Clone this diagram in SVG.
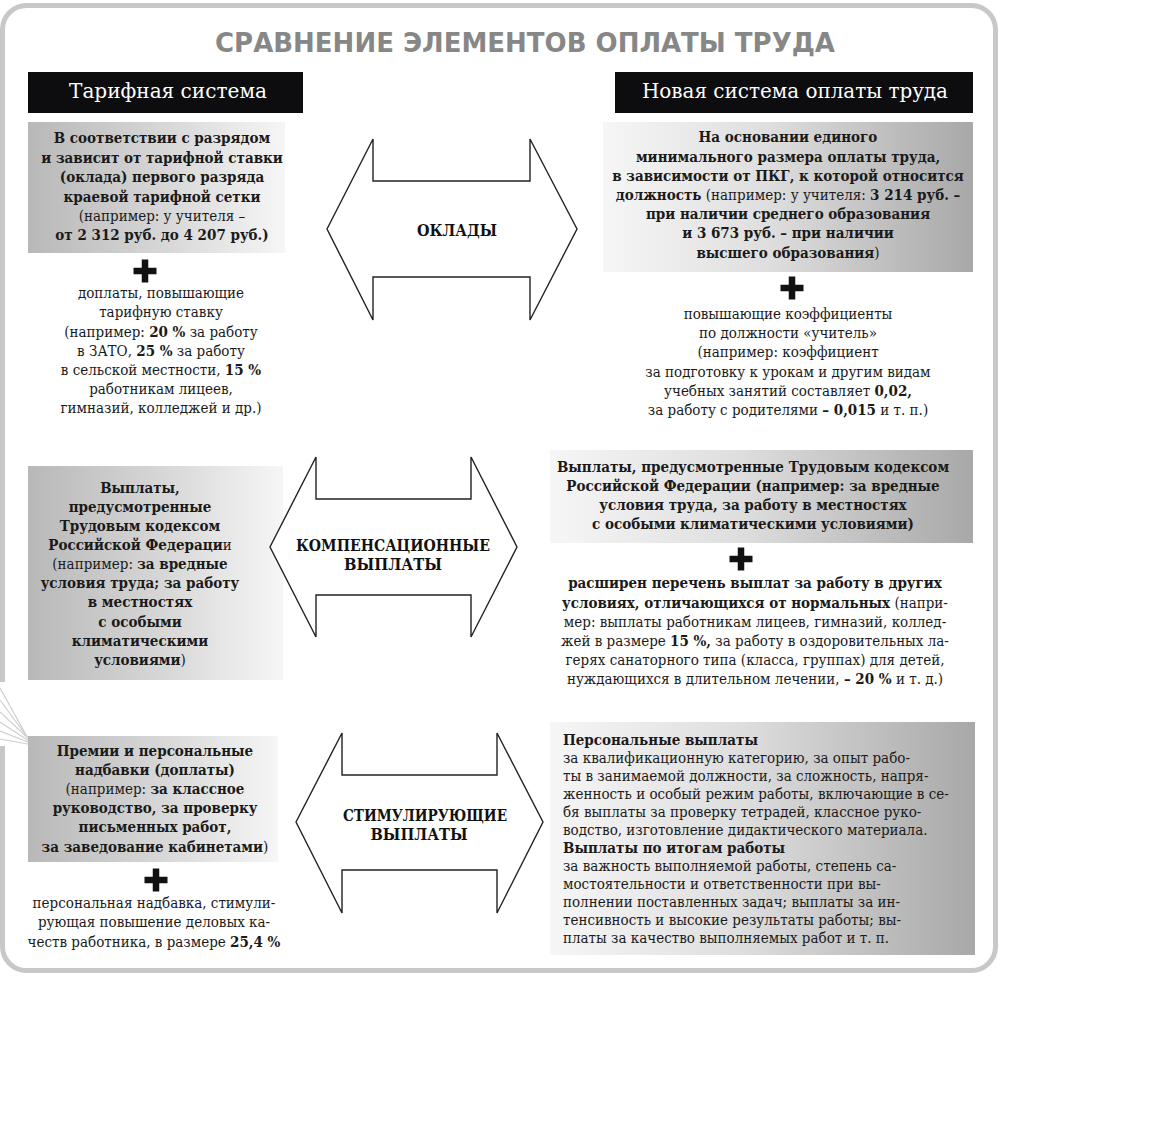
<svg xmlns="http://www.w3.org/2000/svg" width="1152" height="1125" viewBox="0 0 1152 1125">
<defs>
<linearGradient id="gL" x1="0" y1="0" x2="1" y2="0">
<stop offset="0" stop-color="#b8b8b8"/>
<stop offset="0.55" stop-color="#d8d8d8"/>
<stop offset="1" stop-color="#f6f6f6"/>
</linearGradient>
<linearGradient id="gR" x1="0" y1="0" x2="1" y2="0">
<stop offset="0" stop-color="#f6f6f6"/>
<stop offset="0.45" stop-color="#dedede"/>
<stop offset="1" stop-color="#a8a8a8"/>
</linearGradient>
<style>
text{font-family:'DejaVu Serif Condensed','DejaVu Serif','Liberation Serif',serif;font-stretch:condensed;font-size:15px;fill:#1a1a1a}
.c{text-anchor:middle}
.b{font-weight:bold}
.hd{font-size:20px;fill:#ffffff;text-anchor:middle}
.ttl{font-family:'DejaVu Sans Condensed','DejaVu Sans','Liberation Sans',sans-serif;font-weight:bold;font-size:27px;fill:#878787;text-anchor:middle}
.al{font-family:'DejaVu Serif','Liberation Serif',serif;font-stretch:normal;font-weight:bold;font-size:16px;text-anchor:middle;fill:#111}
.sm{font-size:15px}
.arrow{fill:#ffffff;stroke:#222222;stroke-width:1.4;stroke-linejoin:miter}
.plus{stroke:#111111;stroke-width:6.5;fill:none}
</style>
</defs>
<rect x="0" y="0" width="1152" height="1125" fill="#ffffff"/>
<rect x="2.5" y="5.5" width="993" height="965" rx="24" fill="#ffffff" stroke="#c8c8c8" stroke-width="5"/>
<g id="book-edge">
<rect x="0" y="682" width="9" height="64" fill="#ffffff"/>
<path d="M0,688 L30,742 M0,700 L31,742 M0,712 L32,742 M0,722 L32,743 M0,731 L33,744 M0,739 L33,745" stroke="#cfcfcf" stroke-width="1.2" fill="none"/>
</g>
<text id="title" class="ttl" x="525" y="52" textLength="620" lengthAdjust="spacingAndGlyphs">СРАВНЕНИЕ ЭЛЕМЕНТОВ ОПЛАТЫ ТРУДА</text>
<g id="hdr-left">
<rect x="28" y="72" width="275" height="41" fill="#0d0d0f"/>
<text class="hd" x="168" y="98" textLength="198" lengthAdjust="spacingAndGlyphs">Тарифная система</text>
</g>
<g id="hdr-right">
<rect x="615" y="72" width="358" height="41" fill="#0d0d0f"/>
<text class="hd" x="795" y="98" textLength="306" lengthAdjust="spacingAndGlyphs">Новая система оплаты труда</text>
</g>
<g id="left-oklad">
<rect x="28" y="122" width="257" height="131" fill="url(#gL)"/>
<text class="c b" x="162" y="143">В соответствии с разрядом</text>
<text class="c b" x="162" y="163">и зависит от тарифной ставки</text>
<text class="c b" x="162" y="182">(оклада) первого разряда</text>
<text class="c b" x="162" y="202">краевой тарифной сетки</text>
<text class="c" x="162" y="221">(например: у учителя –</text>
<text class="c b" x="162" y="240">от 2 312 руб. до 4 207 руб.)</text>
<path class="plus" d="M133.5,271 H156.5 M145,259.5 V282.5"/>
<text class="c" x="161" y="298">доплаты, повышающие</text>
<text class="c" x="161" y="317">тарифную ставку</text>
<text class="c" x="161" y="337">(например: <tspan class="b">20 %</tspan> за работу</text>
<text class="c" x="161" y="356">в ЗАТО, <tspan class="b">25 %</tspan> за работу</text>
<text class="c" x="161" y="375">в сельской местности, <tspan class="b">15 %</tspan></text>
<text class="c" x="161" y="394">работникам лицеев,</text>
<text class="c" x="161" y="413">гимназий, колледжей и др.)</text>
</g>
<g id="right-oklad">
<rect x="603" y="122" width="370" height="150" fill="url(#gR)"/>
<text class="c b" x="788" y="142">На основании единого</text>
<text class="c b" x="788" y="162">минимального размера оплаты труда,</text>
<text class="c b" x="788" y="181">в зависимости от ПКГ, к которой относится</text>
<text class="c" x="788" y="200"><tspan class="b">должность</tspan> (например: у учителя: <tspan class="b">3 214 руб. –</tspan></text>
<text class="c b" x="788" y="219">при наличии среднего образования</text>
<text class="c b" x="788" y="238">и 3 673 руб. – при наличии</text>
<text class="c" x="788" y="258"><tspan class="b">высшего образования</tspan>)</text>
<path class="plus" d="M780.5,288 H803.5 M792,276.5 V299.5"/>
<text class="c" x="788" y="319">повышающие коэффициенты</text>
<text class="c" x="788" y="338">по должности «учитель»</text>
<text class="c" x="788" y="357">(например: коэффициент</text>
<text class="c" x="788" y="377">за подготовку к урокам и другим видам</text>
<text class="c" x="788" y="396">учебных занятий составляет <tspan class="b">0,02,</tspan></text>
<text class="c" x="788" y="415">за работу с родителями <tspan class="b">– 0,015</tspan> и т. п.)</text>
</g>
<g id="left-comp">
<rect x="28" y="466" width="255" height="214" fill="url(#gL)"/>
<text class="c b" x="140" y="493">Выплаты,</text>
<text class="c b" x="140" y="512">предусмотренные</text>
<text class="c b" x="140" y="531">Трудовым кодексом</text>
<text class="c" x="140" y="550"><tspan class="b">Российской Федераци</tspan>и</text>
<text class="c" x="140" y="569">(например: <tspan class="b">за вредные</tspan></text>
<text class="c b" x="140" y="588">условия труда; за работу</text>
<text class="c b" x="140" y="607">в местностях</text>
<text class="c b" x="140" y="627">с особыми</text>
<text class="c b" x="140" y="646">климатическими</text>
<text class="c" x="140" y="665"><tspan class="b">условиями</tspan>)</text>
</g>
<g id="right-comp">
<rect x="550" y="450" width="423" height="93" fill="url(#gR)"/>
<text class="c b" x="753" y="472">Выплаты, предусмотренные Трудовым кодексом</text>
<text class="c b" x="753" y="491">Российской Федерации (например: за вредные</text>
<text class="c b" x="753" y="510">условия труда, за работу в местностях</text>
<text class="c b" x="753" y="529">с особыми климатическими условиями)</text>
<path class="plus" d="M729.5,559 H752.5 M741,547.5 V570.5"/>
<text class="c b" x="755" y="588">расширен перечень выплат за работу в других</text>
<text class="c" x="755" y="608"><tspan class="b">условиях, отличающихся от нормальных</tspan> (напри-</text>
<text class="c" x="755" y="627">мер: выплаты работникам лицеев, гимназий, коллед-</text>
<text class="c" x="755" y="646">жей в размере <tspan class="b">15 %,</tspan> за работу в оздоровительных ла-</text>
<text class="c" x="755" y="665">герях санаторного типа (класса, группах) для детей,</text>
<text class="c" x="755" y="684">нуждающихся в длительном лечении, <tspan class="b">– 20 %</tspan> и т. д.)</text>
</g>
<g id="left-stim">
<rect x="28" y="736" width="250" height="126" fill="url(#gL)"/>
<text class="c b" x="155" y="756">Премии и персональные</text>
<text class="c b" x="155" y="775">надбавки (доплаты)</text>
<text class="c" x="155" y="794">(например: <tspan class="b">за классное</tspan></text>
<text class="c b" x="155" y="813">руководство, за проверку</text>
<text class="c b" x="155" y="832">письменных работ,</text>
<text class="c" x="155" y="852"><tspan class="b">за заведование кабинетами</tspan>)</text>
<path class="plus" d="M144.5,880 H167.5 M156,868.5 V891.5"/>
<text class="c" x="154" y="908">персональная надбавка, стимули-</text>
<text class="c" x="154" y="927">рующая повышение деловых ка-</text>
<text class="c" x="154" y="947">честв работника, в размере <tspan class="b">25,4 %</tspan></text>
</g>
<g id="right-stim">
<rect x="550" y="722" width="425" height="233" fill="url(#gR)"/>
<text class="sm b" x="563" y="745">Персональные выплаты</text>
<text class="sm" x="563" y="763">за квалификационную категорию, за опыт рабо-</text>
<text class="sm" x="563" y="781">ты в занимаемой должности, за сложность, напря-</text>
<text class="sm" x="563" y="799">женность и особый режим работы, включающие в се-</text>
<text class="sm" x="563" y="817">бя выплаты за проверку тетрадей, классное руко-</text>
<text class="sm" x="563" y="835">водство, изготовление дидактического материала.</text>
<text class="sm b" x="563" y="853">Выплаты по итогам работы</text>
<text class="sm" x="563" y="871">за важность выполняемой работы, степень са-</text>
<text class="sm" x="563" y="889">мостоятельности и ответственности при вы-</text>
<text class="sm" x="563" y="907">полнении поставленных задач; выплаты за ин-</text>
<text class="sm" x="563" y="925">тенсивность и высокие результаты работы; вы-</text>
<text class="sm" x="563" y="943">платы за качество выполняемых работ и т. п.</text>
</g>
<g id="connectors">
<g id="arrow-oklady">
<polygon class="arrow" points="327,229 373,139 373,181 530,181 530,139 577,229 530,320 530,277 373,277 373,320"/>
<text class="al" x="457" y="236" textLength="80" lengthAdjust="spacingAndGlyphs">ОКЛАДЫ</text>
</g>
<g id="arrow-comp">
<polygon class="arrow" points="270,547 316,457 316,499 471,499 471,457 517,547 471,637 471,595 316,595 316,637"/>
<text class="al" x="393" y="551" textLength="194" lengthAdjust="spacingAndGlyphs">КОМПЕНСАЦИОННЫЕ</text>
<text class="al" x="393" y="570" textLength="98" lengthAdjust="spacingAndGlyphs">ВЫПЛАТЫ</text>
</g>
<g id="arrow-stim">
<polygon class="arrow" points="296,822 342,733 342,775 497,775 497,733 543,822 497,913 497,870 342,870 342,913"/>
<text class="al" x="425" y="821" textLength="164" lengthAdjust="spacingAndGlyphs">СТИМУЛИРУЮЩИЕ</text>
<text class="al" x="419" y="840" textLength="97" lengthAdjust="spacingAndGlyphs">ВЫПЛАТЫ</text>
</g>
</g>
</svg>
